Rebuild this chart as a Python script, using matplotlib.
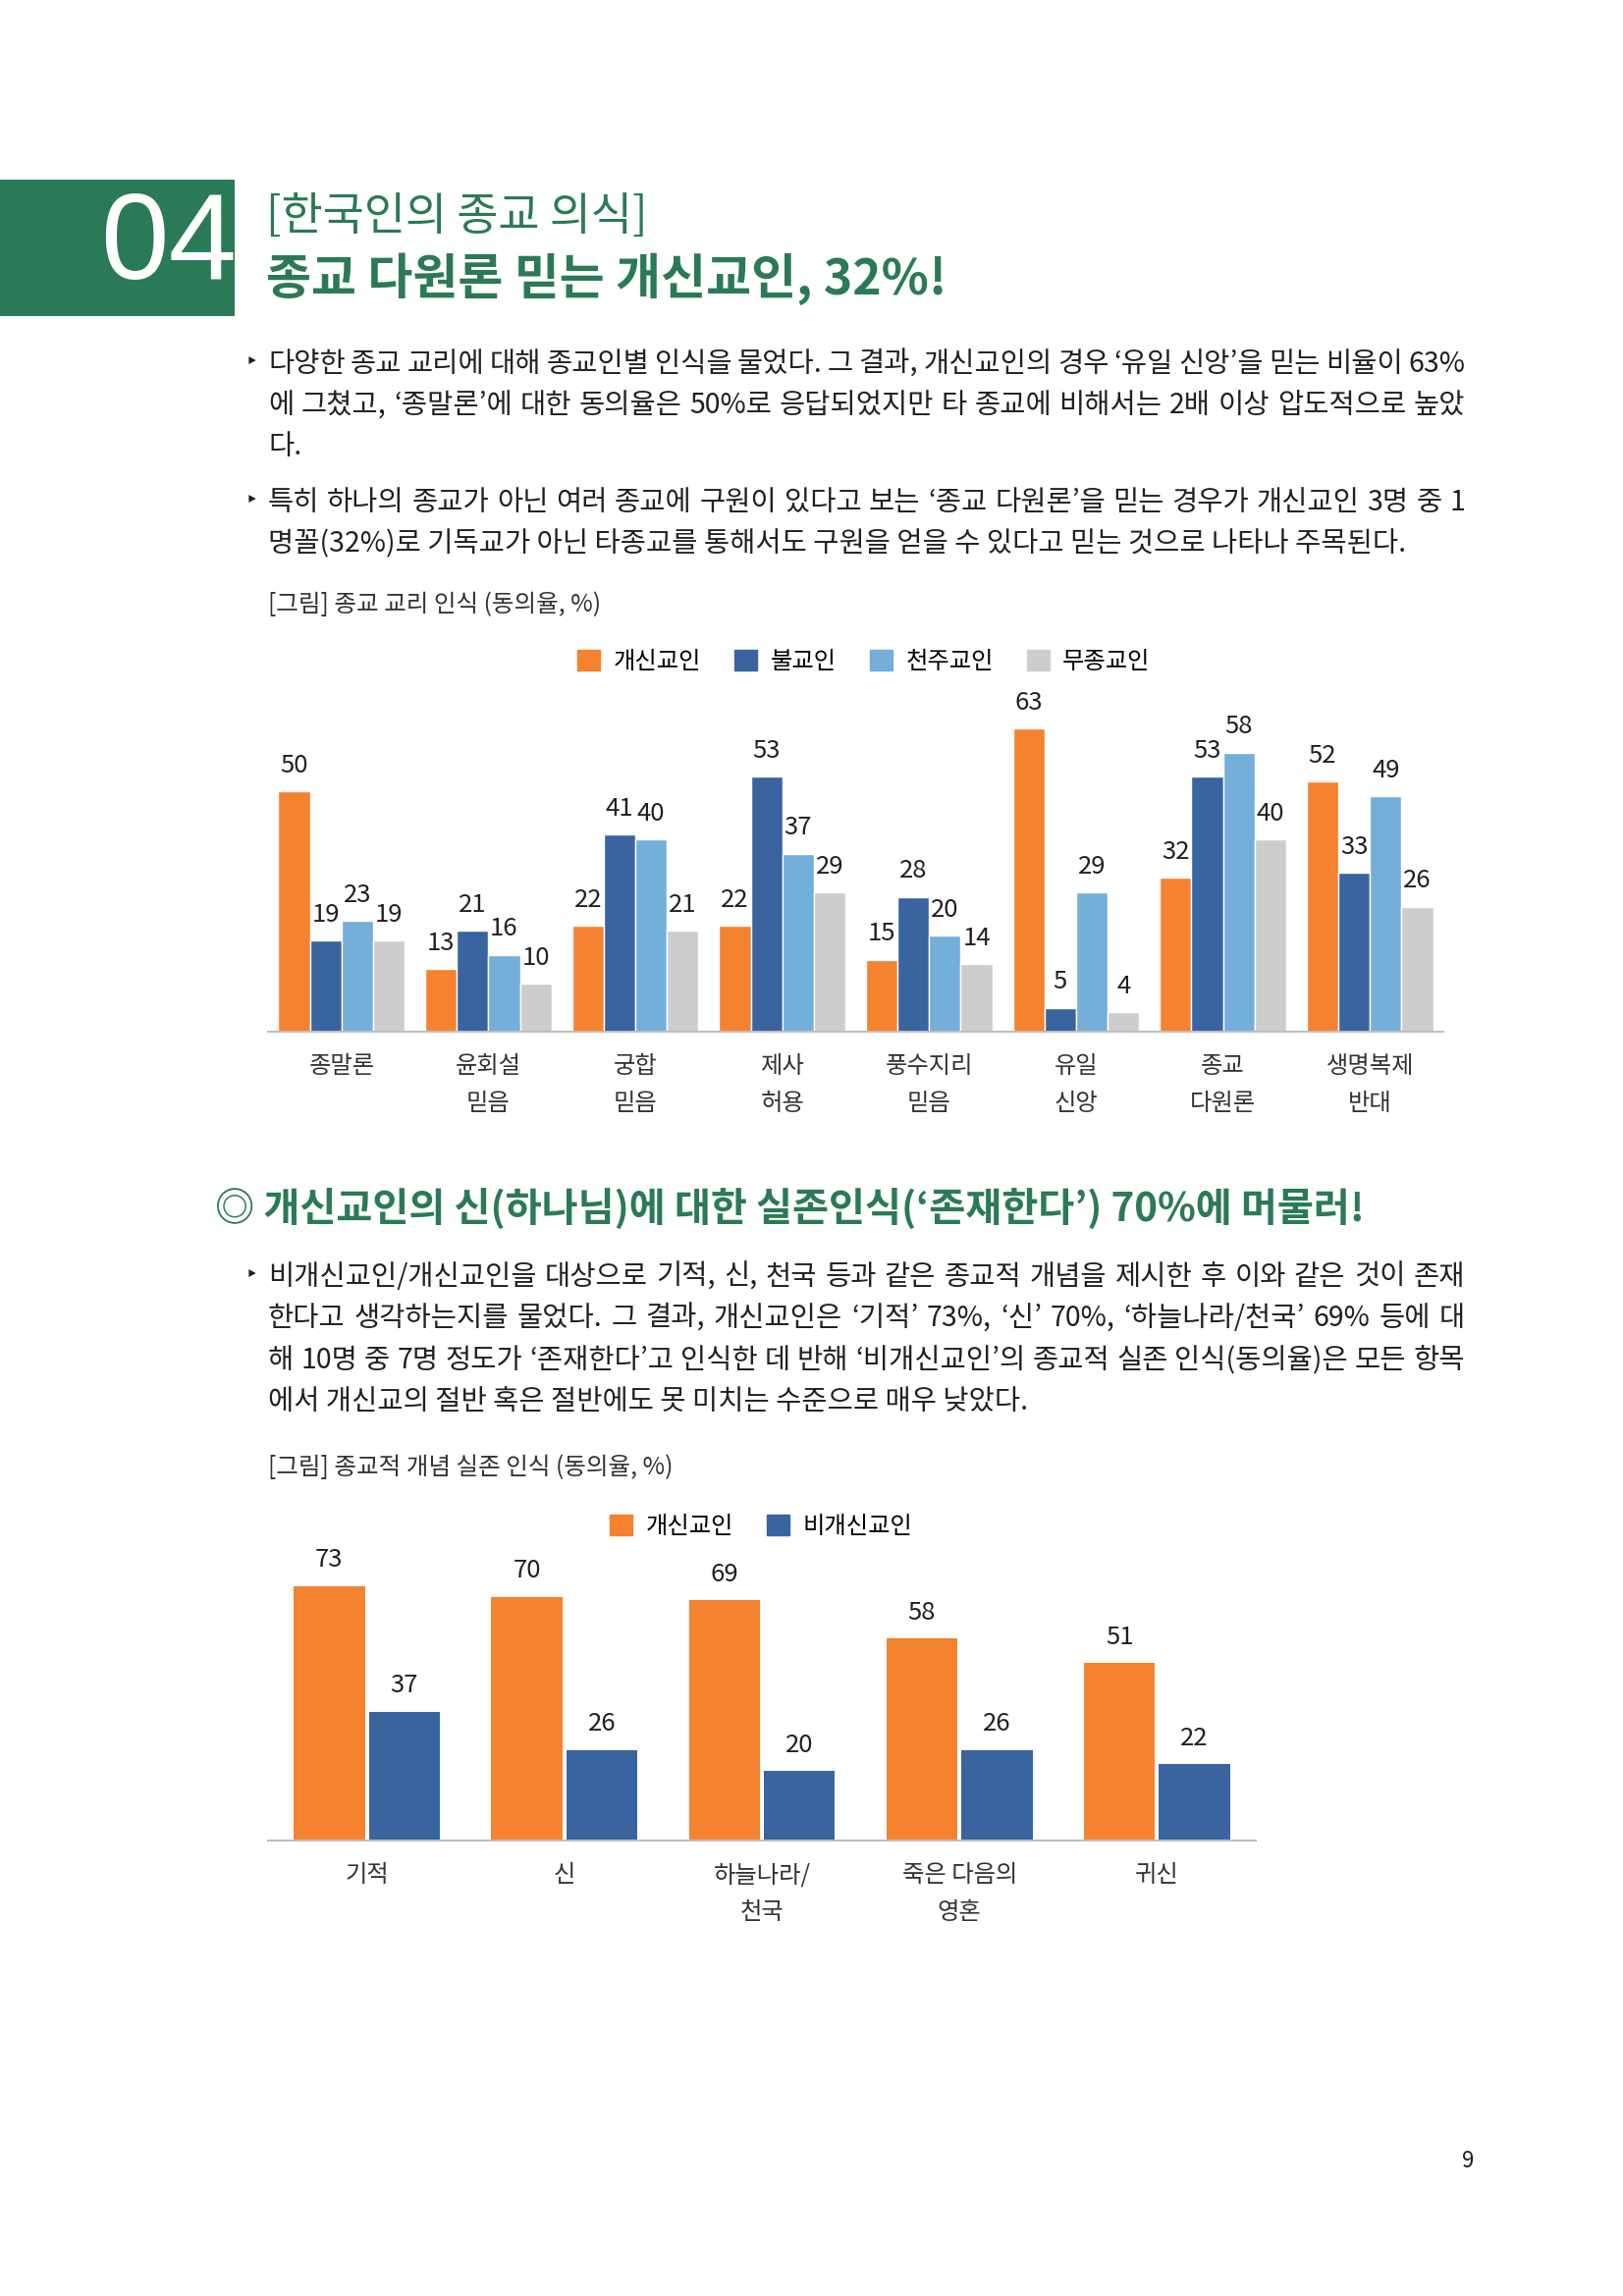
import numpy as np
import matplotlib
matplotlib.use("Agg")
import matplotlib.pyplot as plt
from matplotlib.patches import Rectangle, Patch

plt.rcParams['font.family'] = ['Noto Sans CJK KR', 'DejaVu Sans']

# chart 1 data
doctrines = ['종말론', '윤회설\n믿음', '궁합\n믿음', '제사\n허용', '풍수지리\n믿음', '유일\n신앙', '종교\n다원론', '생명복제\n반대']
groups1 = ['개신교인', '불교인', '천주교인', '무종교인']
protestant1 = [50, 13, 22, 22, 15, 63, 32, 52]
buddhist1 = [19, 21, 41, 53, 28, 5, 53, 33]
catholic1 = [23, 16, 40, 37, 20, 29, 58, 49]
none1 = [19, 10, 21, 29, 14, 4, 40, 26]

# chart 2 data
concepts = ['기적', '신', '하늘나라/\n천국', '죽은 다음의\n영혼', '귀신']
groups2 = ['개신교인', '비개신교인']
protestant2 = [73, 70, 69, 58, 51]
nonprotestant2 = [37, 26, 20, 26, 22]

W, H = 1653, 2339
GREEN = '#2b7a57'
TXT = '#231f20'
ORANGE = '#f5822f'
BLUE = '#3a64a0'
LBLUE = '#74afd9'
GRAY = '#cdcdcb'
BODY = 20.5

fig = plt.figure(figsize=(W / 100, H / 100), dpi=100)
renderer = fig.canvas.get_renderer()


def px(x, y):
    return x / W, 1 - y / H


def put(x, y, s, **kw):
    kw.setdefault('va', 'center')
    kw.setdefault('color', TXT)
    return fig.text(*px(x, y), s, **kw)


def justified(y, line, x0=273, x1=1492, size=BODY):
    words = line.split(' ')
    texts = [put(0, y, w, fontsize=size) for w in words]
    widths = [t.get_window_extent(renderer).width for t in texts]
    gap = (x1 - x0 - sum(widths)) / max(len(words) - 1, 1)
    x = x0
    for t, w in zip(texts, widths):
        t.set_position(px(x, y))
        x += w + gap


# header block
fig.patches.append(Rectangle(px(0, 322), 239 / W, 139 / H, transform=fig.transFigure,
                             facecolor=GREEN, edgecolor='none'))
put(172, 252, '04', fontsize=90, color='white', ha='center', family='Liberation Sans')
put(271, 221, '[한국인의 종교 의식]', fontsize=33, color=GREEN)
put(271, 284, '종교 다원론 믿는 개신교인, 32%!', fontsize=36, color=GREEN, fontweight='bold')

# paragraph 1
put(250, 369, '‣', fontsize=16)
justified(371, '다양한 종교 교리에 대해 종교인별 인식을 물었다. 그 결과, 개신교인의 경우 ‘유일 신앙’을 믿는 비율이 63%')
justified(413, '에 그쳤고, ‘종말론’에 대한 동의율은 50%로 응답되었지만 타 종교에 비해서는 2배 이상 압도적으로 높았')
put(273, 455, '다.', fontsize=BODY)
put(250, 510, '‣', fontsize=16)
justified(512, '특히 하나의 종교가 아닌 여러 종교에 구원이 있다고 보는 ‘종교 다원론’을 믿는 경우가 개신교인 3명 중 1')
put(273, 554, '명꼴(32%)로 기독교가 아닌 타종교를 통해서도 구원을 얻을 수 있다고 믿는 것으로 나타나 주목된다.', fontsize=BODY)

put(273, 616, '[그림] 종교 교리 인식 (동의율, %)', fontsize=17.7, color='#333333')

# chart 1
ax1 = fig.add_axes([273 / W, 1 - 1051 / H, (1470 - 273) / W, 343 / H])
x = np.arange(len(doctrines))
bw = 0.215
series1 = [protestant1, buddhist1, catholic1, none1]
colors1 = [ORANGE, BLUE, LBLUE, GRAY]
for i, (vals, c) in enumerate(zip(series1, colors1)):
    bars = ax1.bar(x + (i - 1.5) * bw, vals, bw, color=c, edgecolor='white', linewidth=1)
    for b, v in zip(bars, vals):
        ax1.annotate(str(v), (b.get_x() + b.get_width() / 2, v), xytext=(0, 19),
                     textcoords='offset points', ha='center', va='center', fontsize=18.5, color=TXT)
ax1.set_xlim(-0.5, len(doctrines) - 0.5)
ax1.set_ylim(0, 70)

handles1 = [Patch(color=c, label=g) for c, g in zip(colors1, groups1)]
fig.legend(handles=handles1, loc='center', bbox_to_anchor=px(880, 674), ncol=4, frameon=False,
           fontsize=17.5, handlelength=0.95, handleheight=0.95, handletextpad=0.55, columnspacing=1.4)

# section 2 heading
put(219, 1232, '◎ 개신교인의 신(하나님)에 대한 실존인식(‘존재한다’) 70%에 머물러!', fontsize=29,
    color=GREEN, fontweight='bold')

put(250, 1299, '‣', fontsize=16)
justified(1301, '비개신교인/개신교인을 대상으로 기적, 신, 천국 등과 같은 종교적 개념을 제시한 후 이와 같은 것이 존재')
justified(1343, '한다고 생각하는지를 물었다. 그 결과, 개신교인은 ‘기적’ 73%, ‘신’ 70%, ‘하늘나라/천국’ 69% 등에 대')
justified(1386, '해 10명 중 7명 정도가 ‘존재한다’고 인식한 데 반해 ‘비개신교인’의 종교적 실존 인식(동의율)은 모든 항목')
put(273, 1428, '에서 개신교의 절반 혹은 절반에도 못 미치는 수준으로 매우 낮았다.', fontsize=BODY)

put(273, 1495, '[그림] 종교적 개념 실존 인식 (동의율, %)', fontsize=17.7, color='#333333')

# chart 2
ax2 = fig.add_axes([273 / W, 1 - 1875 / H, (1279 - 273) / W, 284 / H])
x2 = np.arange(len(concepts))
bw2 = 0.36
series2 = [protestant2, nonprotestant2]
colors2 = [ORANGE, BLUE]
for i, (vals, c) in enumerate(zip(series2, colors2)):
    bars = ax2.bar(x2 + (i - 0.5) * (bw2 + 0.02), vals, bw2, color=c, edgecolor='none')
    for b, v in zip(bars, vals):
        ax2.annotate(str(v), (b.get_x() + b.get_width() / 2, v), xytext=(0, 19),
                     textcoords='offset points', ha='center', va='center', fontsize=18.5, color=TXT)
ax2.set_xlim(-0.5, len(concepts) - 0.5)
ax2.set_ylim(0, 80)

handles2 = [Patch(color=c, label=g) for c, g in zip(colors2, groups2)]
fig.legend(handles=handles2, loc='center', bbox_to_anchor=px(775, 1555), ncol=2, frameon=False,
           fontsize=17.5, handlelength=0.95, handleheight=0.95, handletextpad=0.55, columnspacing=1.4)

for ax, labels, xs in [(ax1, doctrines, x), (ax2, concepts, x2)]:
    for s in ['top', 'right', 'left']:
        ax.spines[s].set_visible(False)
    ax.spines['bottom'].set_color('#bfbfbf')
    ax.spines['bottom'].set_linewidth(1.5)
    ax.set_yticks([])
    ax.set_xticks(xs)
    ax.set_xticklabels(labels, fontsize=17.5, color='#333333', linespacing=1.6, va='top')
    ax.tick_params(axis='x', length=0, pad=16)
    ax.patch.set_visible(False)

put(1495, 2201, '9', fontsize=16, ha='center')

fig.savefig('out.png', dpi=100, facecolor='white')
